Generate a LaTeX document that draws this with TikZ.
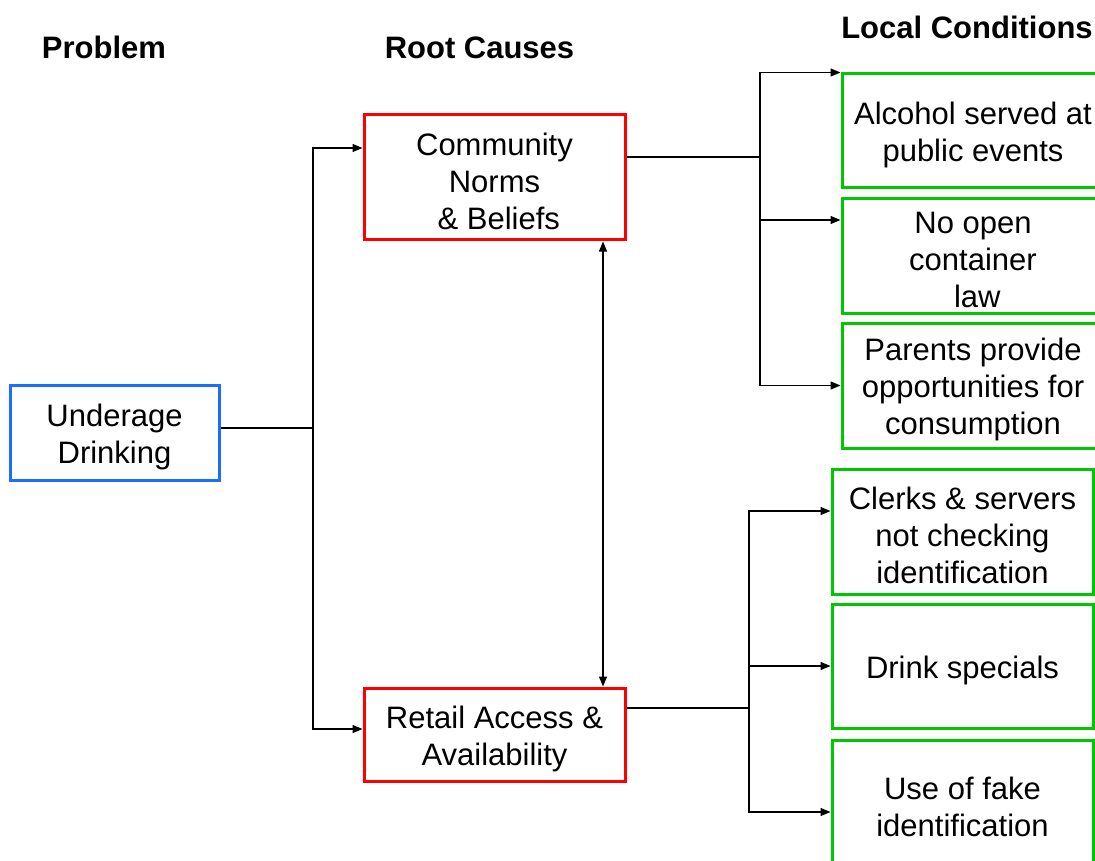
\documentclass[tikz,border=0pt]{standalone}
\usepackage{fontspec}
\setmainfont{Liberation Sans}
\usetikzlibrary{arrows.meta}
\definecolor{cblue}{RGB}{26,110,255}
\definecolor{cred}{RGB}{255,0,0}
\definecolor{cgreen}{RGB}{0,200,0}
\tikzset{
  box/.style={draw, line width=3pt, rectangle, inner sep=0pt},
  probbox/.style={box, draw=cblue},
  causebox/.style={box, draw=cred},
  condbox/.style={box, draw=cgreen},
  txt/.style={align=center, inner sep=0pt, yshift=-4pt,
    font=\fontsize{31}{37}\selectfont},
  title/.style={font=\fontsize{31}{36}\selectfont\bfseries, anchor=base},
  conn/.style={line width=1.3pt, black},
  arr/.style={conn, -{Triangle[length=10pt,width=8pt]}},
  darr/.style={conn, {Triangle[length=10pt,width=8pt]}-{Triangle[length=10pt,width=8pt]}}
}
\begin{document}
\begin{tikzpicture}[x=1pt,y=-1pt]
\useasboundingbox (0,0) rectangle (1095,861);
\fill[white] (0,0) rectangle (1095,861);

% titles
\node[title] (t1) at (104,59) {Problem};
\node[title] (t2) at (479.5,59) {Root Causes};
\node[title] (t3) at (967,39) {Local Conditions};

% problem
\node[probbox, minimum width=209pt, minimum height=95pt] (und) at (114.5,432.5) {};
\node[txt] (undt) at (und.center) {Underage\\Drinking};

% root causes
\node[causebox, minimum width=261pt, minimum height=125pt] (comm) at (494.5,177.5) {};
\node[txt] (commt) at (comm.center) {Community\\Norms\\\hspace*{0.28em}\& Beliefs};
\node[causebox, minimum width=261pt, minimum height=93pt] (ret) at (494.5,734.5) {};
\node[txt] (rett) at (ret.center) {Retail Access \&\\Availability};

% local conditions, top group
\node[condbox, minimum width=262pt, minimum height=114pt] (g1) at (973,131) {};
\node[txt] (g1t) at (g1.center) {Alcohol served at\\public events};
\node[condbox, minimum width=262pt, minimum height=114pt] (g2) at (973,256) {};
\node[txt] (g2t) at (g2.center) {No open\\container\\\hspace*{0.28em}law};
\node[condbox, minimum width=262pt, minimum height=125pt] (g3) at (973,385.5) {};
\node[txt] (g3t) at (g3.center) {Parents provide\\opportunities for\\consumption};

% local conditions, bottom group
\node[condbox, minimum width=261pt, minimum height=125pt] (g4) at (962.5,531.5) {};
\node[txt] (g4t) at (g4.center) {Clerks \& servers\\not checking\\identification};
\node[condbox, minimum width=261pt, minimum height=124pt] (g5) at (962.5,666) {};
\node[txt] (g5t) at (g5.center) {Drink specials};
\node[condbox, minimum width=261pt, minimum height=126pt] (g6) at (962.5,803) {};
\node[txt] (g6t) at (g6.center) {Use of fake\\identification};

% junctions
\coordinate (j1) at (313,428);
\coordinate (j2) at (760,157);
\coordinate (j3) at (749,708);

% problem to causes
\draw[conn] (und.east |- j1) -- (j1);
\draw[arr] (j1) |- ([yshift=29.5pt]comm.west);
\draw[arr] (j1) |- ([yshift=5.5pt]ret.west);

% between causes
\draw[darr] ([xshift=108.5pt]comm.south) -- ([xshift=108.5pt]ret.north);

% community to conditions
\draw[conn] (comm.east |- j2) -- (j2);
\draw[arr] (j2) |- (g1.north west);
\draw[arr] (j2) |- ([yshift=36pt]g2.west);
\draw[arr] (j2) |- (g3.west);

% retail to conditions
\draw[conn] (ret.east |- j3) -- (j3);
\draw[arr] (j3) |- ([yshift=20.5pt]g4.west);
\draw[arr] (j3) |- (g5.west);
\draw[arr] (j3) |- ([yshift=-9pt]g6.west);
\end{tikzpicture}
\end{document}
